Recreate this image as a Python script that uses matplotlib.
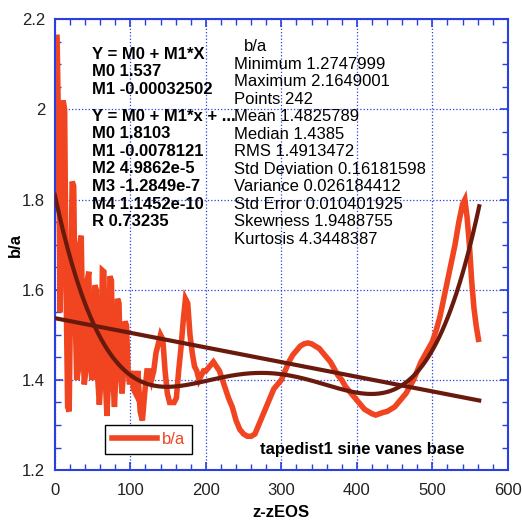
import numpy as np
import matplotlib
matplotlib.use('Agg')
import matplotlib.pyplot as plt
from matplotlib.ticker import MultipleLocator

plt.rcParams['font.family'] = ['Liberation Sans', 'DejaVu Sans']

# b/a vs z-zEOS
z = [0, 1, 3, 5, 7, 9, 11, 13, 15, 17, 19, 21, 23, 25, 27, 29, 31, 33, 35, 37,
     39, 41, 43, 45, 47, 49, 51, 53, 55, 57, 59, 61, 63, 65, 67, 69, 71, 73, 75, 77,
     79, 81, 83, 85, 87, 89, 91, 93, 95, 97, 99, 102, 104, 107, 110, 113, 116, 119, 122, 125,
     128, 131, 134, 137, 140, 143, 146, 149, 152, 155, 158, 161, 164, 167, 170, 173, 176, 179, 182, 185,
     188, 191, 194, 197, 200, 205, 210, 214, 218, 222, 226, 230, 235, 240, 245, 250, 255, 260, 265, 270,
     275, 280, 285, 290, 295, 300, 305, 310, 315, 320, 325, 330, 335, 340, 345, 350, 355, 360, 365, 370,
     375, 380, 385, 390, 395, 400, 405, 410, 415, 420, 425, 430, 435, 440, 445, 450, 455, 460, 465, 470,
     475, 480, 485, 490, 495, 500, 505, 510, 515, 520, 525, 530, 535, 540, 543, 546, 549, 552, 555, 558,
     561]
ba = [1.80, 2.16, 2.16, 1.95, 1.55, 1.75, 2.02, 2.00, 1.60, 1.34, 1.33, 1.60, 1.84, 1.83, 1.55, 1.40, 1.42, 1.70, 1.72, 1.50,
      1.39, 1.42, 1.62, 1.64, 1.45, 1.40, 1.42, 1.61, 1.60, 1.40, 1.345, 1.40, 1.643, 1.64, 1.40, 1.32, 1.40, 1.63, 1.62, 1.40,
      1.34, 1.42, 1.58, 1.57, 1.42, 1.37, 1.42, 1.53, 1.52, 1.42, 1.39, 1.42, 1.38, 1.37, 1.42, 1.33, 1.31, 1.37, 1.42, 1.42,
      1.40, 1.42, 1.46, 1.48, 1.50, 1.49, 1.42, 1.37, 1.35, 1.35, 1.35, 1.36, 1.42, 1.47, 1.53, 1.58, 1.57, 1.50, 1.46, 1.43,
      1.42, 1.40, 1.41, 1.42, 1.42, 1.43, 1.44, 1.43, 1.42, 1.40, 1.38, 1.36, 1.34, 1.31, 1.29, 1.28, 1.275, 1.275, 1.28, 1.30,
      1.32, 1.34, 1.36, 1.38, 1.39, 1.40, 1.42, 1.44, 1.455, 1.465, 1.475, 1.48, 1.482, 1.48, 1.475, 1.47, 1.46, 1.45, 1.44, 1.425,
      1.41, 1.40, 1.385, 1.375, 1.365, 1.355, 1.345, 1.335, 1.33, 1.325, 1.322, 1.325, 1.328, 1.33, 1.335, 1.34, 1.35, 1.36, 1.37, 1.385,
      1.40, 1.42, 1.44, 1.455, 1.47, 1.485, 1.51, 1.54, 1.58, 1.62, 1.66, 1.70, 1.75, 1.79, 1.80, 1.76, 1.70, 1.62, 1.56, 1.52,
      1.49]

# fit coefficients as printed on the chart
lin_coef = [1.537, -0.00032502]
poly_coef = [1.8103, -0.0078121, 4.9862e-5, -1.2849e-7, 1.1452e-10]

stats_lines = ['Minimum 1.2747999', 'Maximum 2.1649001', 'Points 242', 'Mean 1.4825789',
               'Median 1.4385', 'RMS 1.4913472', 'Std Deviation 0.16181598',
               'Variance 0.026184412', 'Std Error 0.010401925', 'Skewness 1.9488755',
               'Kurtosis 4.3448387']
fit_lines = ['Y = M0 + M1*X', 'M0 1.537', 'M1 -0.00032502']
poly_lines = ['Y = M0 + M1*x + ...', 'M0 1.8103', 'M1 -0.0078121', 'M2 4.9862e-5',
              'M3 -1.2849e-7', 'M4 1.1452e-10', 'R 0.73235']

blue = '#2a3fe0'
orange = '#f04520'
maroon = '#6a1a0c'

fig = plt.figure(figsize=(5.22, 5.20), dpi=100)
ax = fig.add_axes([0.105, 0.096, 0.868, 0.867])

ax.plot(z, ba, color=orange, lw=4.0, solid_joinstyle='miter', label='b/a', zorder=2)

xf = np.linspace(0, 562, 300)
ax.plot(xf, np.polyval(lin_coef[::-1], xf), color=maroon, lw=3.0, zorder=3)
ax.plot(xf, np.polyval(poly_coef[::-1], xf), color=maroon, lw=3.0, zorder=3)

ax.set_xlim(0, 600)
ax.set_ylim(1.2, 2.2)
ax.xaxis.set_major_locator(MultipleLocator(100))
ax.xaxis.set_minor_locator(MultipleLocator(20))
ax.yaxis.set_major_locator(MultipleLocator(0.2))
ax.yaxis.set_minor_locator(MultipleLocator(0.05))
ax.set_yticks([1.2, 1.4, 1.6, 1.8, 2.0, 2.2])
ax.set_yticklabels(['1.2', '1.4', '1.6', '1.8', '2', '2.2'])
ax.tick_params(which='both', direction='in', top=True, right=True, color=blue,
               labelsize=12, labelcolor='#222222')
ax.tick_params(axis='x', pad=9)
ax.tick_params(axis='y', pad=7)
ax.tick_params(which='major', length=6, width=1.2)
ax.tick_params(which='minor', length=4, width=1.0)
for s in ax.spines.values():
    s.set_color(blue)
    s.set_linewidth(1.5)
ax.grid(True, which='major', color=blue, linestyle=':', linewidth=0.9)

ax.set_xlabel('z-zEOS', fontsize=12, fontweight='bold', labelpad=5)
ax.set_ylabel('b/a', fontsize=12, fontweight='bold', labelpad=-1)

# text blocks, placed line by line (pixel spacing ~17.5)
def px_to_ax(px, py):
    return (px - 55) / 453.0, (470 - py) / 451.0

for i, ln in enumerate(fit_lines):
    ax.text(*px_to_ax(92, 54 + i * 17.5), ln, transform=ax.transAxes, fontsize=12,
            fontweight='bold', va='center', ha='left')
for i, ln in enumerate(poly_lines):
    ax.text(*px_to_ax(92, 116 + i * 17.6), ln, transform=ax.transAxes, fontsize=12,
            fontweight='bold', va='center', ha='left')
ax.text(*px_to_ax(244, 46), 'b/a', transform=ax.transAxes, fontsize=12, va='center', ha='left')
for i, ln in enumerate(stats_lines):
    ax.text(*px_to_ax(234, 64 + i * 17.5), ln, transform=ax.transAxes, fontsize=12,
            va='center', ha='left')

ax.text(*px_to_ax(260, 449), 'tapedist1 sine vanes base', transform=ax.transAxes,
        fontsize=12, fontweight='bold', va='center', ha='left')

leg = ax.legend(loc='lower left', bbox_to_anchor=(0.093, 0.018), fontsize=12,
                handlelength=2.7, fancybox=False, framealpha=1, edgecolor='black',
                labelcolor=orange, borderpad=0.4, handletextpad=0.3)
leg.get_frame().set_linewidth(1.0)

fig.savefig('out.png', dpi=100)
